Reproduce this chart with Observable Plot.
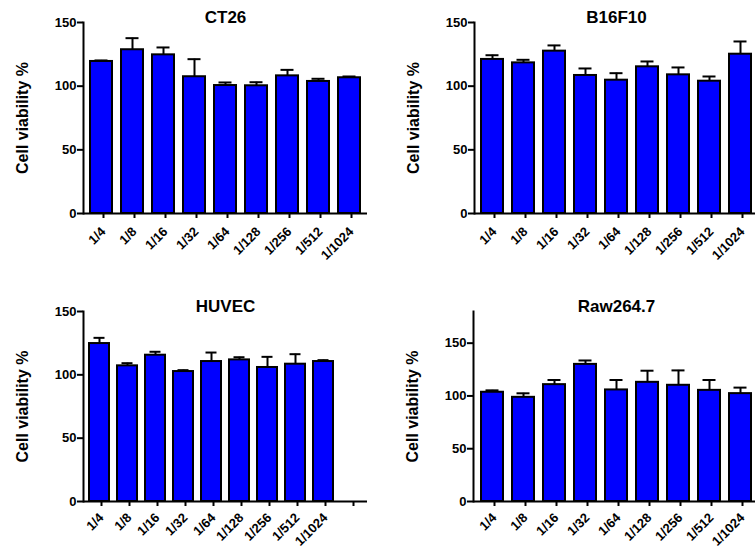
<!DOCTYPE html>
<html>
<head>
<meta charset="utf-8">
<script src="https://cdn.jsdelivr.net/npm/d3@7"></script>
<script src="https://cdn.jsdelivr.net/npm/@observablehq/plot@0.6"></script>
<style>
  html, body { margin: 0; padding: 0; background: #fff; overflow: hidden; }
  #wrap { position: relative; width: 755px; height: 551px; overflow: hidden; background: #fff; }
  #wrap > svg, #wrap > figure { position: absolute; margin: 0; }
</style>
</head>
<body>
<div id="wrap"></div>
<script>
const categories = ["1/4","1/8","1/16","1/32","1/64","1/128","1/256","1/512","1/1024"];
const yTicks = [0, 50, 100, 150];
const yLabel = "Cell viability %";

const ct26Mean = [119.4, 128.6, 124.6, 107.4, 100.5, 100.3, 108.1, 103.7, 106.6];
const ct26Err  = [0.8, 9.1, 5.8, 13.8, 2.4, 2.8, 4.7, 2.1, 1.0];

const b16Mean = [121.0, 118.3, 127.5, 108.4, 104.7, 115.2, 108.9, 103.9, 125.1];
const b16Err  = [3.3, 2.4, 4.5, 5.5, 5.5, 4.2, 5.8, 3.7, 10.0];

const huvecMean = [124.7, 107.1, 115.5, 102.6, 110.5, 111.8, 105.8, 108.4, 110.5];
const huvecErr  = [4.5, 2.1, 2.7, 1.1, 7.1, 2.1, 8.4, 7.9, 1.1];

const rawMean = [103.5, 98.7, 110.7, 129.9, 105.7, 112.9, 110.1, 105.3, 102.2];
const rawErr  = [1.8, 3.8, 4.4, 3.7, 9.4, 11.0, 14.1, 9.8, 5.7];

function panel(o) {
  const data = categories.map((c, i) => ({c, v: o.mean[i], e: o.mean[i] + o.err[i]}));
  const svg = Plot.plot({
    width: 390,
    height: o.height,
    marginLeft: o.ml,
    marginRight: o.mr,
    marginTop: o.mt,
    marginBottom: o.mb,
    style: {fontFamily: "'Liberation Sans', Arial, sans-serif", fontWeight: "bold", fontSize: "13px", color: "black", background: "transparent", overflow: "visible"},
    x: {domain: o.domain, paddingInner: 0.3, paddingOuter: 0.15, axis: null},
    y: {domain: o.yDomain, axis: null},
    marks: [
      Plot.barY(data, {x: "c", y: "v", fill: "#0000ff", stroke: "black", strokeWidth: 2}),
      Plot.ruleX(data, {x: "c", y1: "v", y2: "e", stroke: "black", strokeWidth: 2}),
      Plot.tickY(data, {x: "c", y: "e", stroke: "black", strokeWidth: 2, insetLeft: 4.5, insetRight: 4.5}),
      Plot.ruleY([0], {stroke: "black", strokeWidth: 2}),
      Plot.frame({anchor: "left", stroke: "black", strokeWidth: 2}),
      Plot.axisY({ticks: yTicks, tickSize: 6, tickPadding: 1, strokeWidth: 2, label: null, fontSize: 13}),
      Plot.axisX({tickRotate: -45, tickSize: 5, tickPadding: o.tp, strokeWidth: 2, label: null, fontSize: 13, dx: 2}),
      Plot.text([o.title], {frameAnchor: "top", lineAnchor: "bottom", fontSize: 17, dy: 0}),
      Plot.text([yLabel], {frameAnchor: "left", textAnchor: "middle", rotate: -90, dx: -61, fontSize: 16})
    ]
  });
  svg.style.left = o.left + "px";
  svg.style.top = o.top + "px";
  document.getElementById("wrap").appendChild(svg);
}

panel({title: "CT26", mean: ct26Mean, err: ct26Err, domain: categories, yDomain: [0, 150],
  left: 0, top: 0, height: 270, ml: 83, mr: 23, mt: 22, mb: 57, tp: 11});
panel({title: "B16F10", mean: b16Mean, err: b16Err, domain: categories, yDomain: [0, 150],
  left: 375, top: 0, height: 270, ml: 99, mr: 7, mt: 22, mb: 57, tp: 11});
panel({title: "HUVEC", mean: huvecMean, err: huvecErr, domain: [...categories, " "], yDomain: [0, 150],
  left: 0, top: 270, height: 281, ml: 83, mr: 23, mt: 41, mb: 50, tp: 9});
panel({title: "Raw264.7", mean: rawMean, err: rawErr, domain: categories, yDomain: [0, 180],
  left: 375, top: 270, height: 281, ml: 98, mr: 6, mt: 41, mb: 50, tp: 9});
</script>
</body>
</html>
